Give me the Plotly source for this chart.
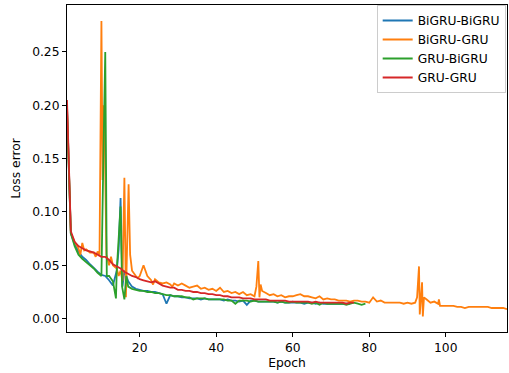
import plotly.graph_objects as go

series_names = ["BiGRU-BiGRU", "BiGRU-GRU", "GRU-BiGRU", "GRU-GRU"]
series_colors = ["#1f77b4", "#ff7f0e", "#2ca02c", "#d62728"]

bigru_bigru_epoch = [1, 2, 3, 4, 5, 6, 7, 8, 9, 10, 11, 12, 13, 14, 14.5, 15, 15.5, 16, 17, 18,
                     19, 20, 21, 22, 23, 24, 25, 26, 27, 28, 29, 30, 31, 32, 33, 34, 35, 36, 37, 38,
                     39, 40, 41, 42, 43, 44, 45, 46, 47, 48, 49, 50, 51, 52, 53, 54, 55, 56, 57, 58,
                     59, 60, 61, 62, 63, 64, 65, 66, 67, 68, 69, 70, 71, 72, 73, 74, 75]
bigru_bigru_loss = [0.200, 0.080, 0.070, 0.063, 0.058, 0.055, 0.051, 0.047, 0.044, 0.041, 0.040, 0.036, 0.031, 0.045, 0.065, 0.113, 0.030, 0.045, 0.035, 0.030,
                    0.028, 0.027, 0.026, 0.026, 0.025, 0.025, 0.024, 0.023, 0.014, 0.022, 0.021, 0.021, 0.020, 0.020, 0.019, 0.019, 0.019, 0.018, 0.019, 0.018,
                    0.018, 0.018, 0.018, 0.017, 0.018, 0.017, 0.017, 0.016, 0.017, 0.013, 0.017, 0.017, 0.016, 0.016, 0.016, 0.016, 0.016, 0.015, 0.016, 0.015,
                    0.015, 0.015, 0.015, 0.015, 0.014, 0.015, 0.015, 0.014, 0.015, 0.014, 0.014, 0.014, 0.014, 0.014, 0.014, 0.014, 0.014]

bigru_gru_epoch = [1, 2, 3, 4, 4.5, 5, 5.5, 6, 7, 8, 8.5, 9, 9.5, 10, 10.3, 10.6, 10.9, 11.3, 12, 12.5,
                   13, 14, 14.5, 15, 15.5, 16, 16.4, 16.8, 17.1, 17.5, 18, 19, 19.5, 20, 21, 22, 23, 23.5, 24, 25,
                   26, 27, 28, 28.5, 29, 30, 31, 32, 33, 34, 35, 36, 37, 38, 39, 40, 41, 42, 43, 44,
                   45, 46, 47, 48, 49, 50, 50.5, 51, 51.3, 51.6, 52, 53, 54, 55, 56, 57, 58, 59, 60, 61,
                   62, 63, 64, 65, 66, 67, 68, 69, 70, 71, 72, 73, 74, 75, 76, 77, 78, 79, 80, 81,
                   82, 83, 84, 85, 86, 87, 88, 89, 90, 91, 92, 92.5, 93, 93.2, 93.5, 93.8, 94, 94.3, 95, 96,
                   97, 98, 98.2, 98.5, 99, 100, 101, 102, 103, 104, 105, 106, 107, 108, 109, 110, 111, 112, 113, 114,
                   115, 116]
bigru_gru_loss = [0.200, 0.080, 0.072, 0.066, 0.060, 0.071, 0.064, 0.065, 0.062, 0.062, 0.058, 0.063, 0.060, 0.279, 0.130, 0.200, 0.160, 0.060, 0.050, 0.058,
                  0.050, 0.047, 0.040, 0.045, 0.035, 0.132, 0.020, 0.075, 0.126, 0.060, 0.045, 0.040, 0.038, 0.040, 0.050, 0.040, 0.036, 0.032, 0.037, 0.034,
                  0.033, 0.034, 0.032, 0.030, 0.033, 0.031, 0.033, 0.031, 0.029, 0.030, 0.031, 0.028, 0.029, 0.027, 0.028, 0.026, 0.029, 0.025, 0.026, 0.024,
                  0.025, 0.023, 0.025, 0.022, 0.023, 0.021, 0.030, 0.054, 0.020, 0.032, 0.026, 0.024, 0.022, 0.023, 0.021, 0.022, 0.020, 0.021, 0.021, 0.022,
                  0.023, 0.021, 0.021, 0.020, 0.019, 0.021, 0.018, 0.019, 0.018, 0.018, 0.017, 0.017, 0.017, 0.016, 0.017, 0.017, 0.016, 0.016, 0.015, 0.020,
                  0.016, 0.017, 0.015, 0.015, 0.015, 0.015, 0.015, 0.014, 0.015, 0.014, 0.015, 0.020, 0.049, 0.004, 0.025, 0.034, 0.002, 0.020, 0.018, 0.015,
                  0.016, 0.014, 0.018, 0.012, 0.012, 0.012, 0.012, 0.012, 0.011, 0.011, 0.010, 0.011, 0.011, 0.011, 0.011, 0.011, 0.011, 0.010, 0.010, 0.010,
                  0.010, 0.009]

gru_bigru_epoch = [1, 2, 3, 4, 5, 6, 7, 8, 9, 10, 10.6, 11, 11.4, 12, 13, 13.8, 14, 15, 15.4, 16,
                   16.5, 17, 18, 19, 20, 21, 22, 23, 24, 25, 26, 27, 28, 29, 30, 31, 32, 33, 34, 35,
                   36, 37, 38, 39, 40, 41, 42, 43, 44, 45, 46, 47, 48, 49, 50, 51, 52, 53, 54, 55,
                   56, 57, 58, 59, 60, 61, 62, 63, 64, 65, 66, 67, 68, 69, 70, 71, 72, 73, 74, 75,
                   76, 77, 78, 79]
gru_bigru_loss = [0.195, 0.080, 0.068, 0.060, 0.056, 0.053, 0.050, 0.047, 0.043, 0.040, 0.170, 0.250, 0.040, 0.040, 0.035, 0.019, 0.045, 0.105, 0.030, 0.018,
                  0.040, 0.030, 0.028, 0.027, 0.026, 0.026, 0.025, 0.025, 0.024, 0.024, 0.023, 0.022, 0.022, 0.021, 0.021, 0.021, 0.020, 0.020, 0.018, 0.019,
                  0.019, 0.019, 0.018, 0.018, 0.018, 0.018, 0.018, 0.017, 0.017, 0.014, 0.017, 0.017, 0.017, 0.016, 0.017, 0.016, 0.016, 0.016, 0.016, 0.016,
                  0.015, 0.016, 0.015, 0.015, 0.016, 0.015, 0.015, 0.015, 0.015, 0.014, 0.015, 0.013, 0.015, 0.014, 0.014, 0.014, 0.014, 0.014, 0.013, 0.014,
                  0.015, 0.014, 0.013, 0.014]

gru_gru_epoch = [1, 2, 3, 4, 5, 6, 7, 8, 9, 10, 11, 12, 13, 14, 15, 16, 17, 18, 19, 20,
                 21, 22, 23, 24, 25, 26, 27, 28, 29, 30, 31, 32, 33, 34, 35, 36, 37, 38, 39, 40,
                 41, 42, 43, 44, 45, 46, 47, 48, 49, 50, 51, 52, 53, 54, 55, 56, 57, 58, 59, 60,
                 61, 62, 63, 64, 65, 66, 67, 68, 69, 70, 71, 72, 73, 74, 75, 76]
gru_gru_loss = [0.205, 0.082, 0.072, 0.068, 0.066, 0.064, 0.063, 0.062, 0.060, 0.058, 0.058, 0.055, 0.051, 0.049, 0.047, 0.044, 0.042, 0.040, 0.039, 0.037,
                0.036, 0.035, 0.034, 0.035, 0.033, 0.031, 0.030, 0.029, 0.029, 0.027, 0.027, 0.026, 0.026, 0.025, 0.025, 0.024, 0.024, 0.023, 0.023, 0.022,
                0.022, 0.021, 0.021, 0.020, 0.020, 0.020, 0.019, 0.019, 0.019, 0.018, 0.018, 0.018, 0.018, 0.017, 0.017, 0.017, 0.017, 0.017, 0.016, 0.016,
                0.016, 0.016, 0.016, 0.016, 0.015, 0.016, 0.015, 0.015, 0.015, 0.015, 0.015, 0.015, 0.015, 0.014, 0.015, 0.015]

x_ticks = [20, 40, 60, 80, 100]
y_ticks = [0.00, 0.05, 0.10, 0.15, 0.20, 0.25]

all_x = [bigru_bigru_epoch, bigru_gru_epoch, gru_bigru_epoch, gru_gru_epoch]
all_y = [bigru_bigru_loss, bigru_gru_loss, gru_bigru_loss, gru_gru_loss]

FONT = "DejaVu Sans"
fig = go.Figure()
for name, color, xs, ys in zip(series_names, series_colors, all_x, all_y):
    fig.add_trace(go.Scatter(x=xs, y=ys, mode="lines", name=name,
                             line=dict(color=color, width=1.8)))

fig.update_layout(
    width=509, height=373,
    margin=dict(l=67, r=2, t=5, b=41, autoexpand=False),
    paper_bgcolor="white", plot_bgcolor="white",
    font=dict(family=FONT, size=12.3, color="black"),
    showlegend=True,
    legend=dict(x=0.997, y=1.0, xanchor="right", yanchor="top",
                bgcolor="rgba(255,255,255,0.8)", bordercolor="#cccccc", borderwidth=1,
                font=dict(family=FONT, size=12.3, color="black"), itemwidth=30,
                tracegroupgap=0),
)
fig.update_xaxes(range=[1, 116], tickvals=x_ticks, ticks="outside", ticklen=4, tickwidth=1,
                 tickcolor="black", showline=True, linecolor="black", linewidth=1, mirror=True,
                 showgrid=False, zeroline=False, automargin=False,
                 title=dict(text="Epoch", font=dict(family=FONT, size=12.3), standoff=4))
fig.update_yaxes(range=[-0.0125, 0.294], tickvals=y_ticks, tickformat=".2f", ticks="outside", ticklen=4,
                 tickwidth=1, tickcolor="black", showline=True, linecolor="black", linewidth=1, mirror=True,
                 showgrid=False, zeroline=False, automargin=False,
                 title=dict(text="Loss error", font=dict(family=FONT, size=12.3), standoff=8))

fig.write_html("out.html", config={"displayModeBar": False},
               post_script="document.body.style.margin='0';")
